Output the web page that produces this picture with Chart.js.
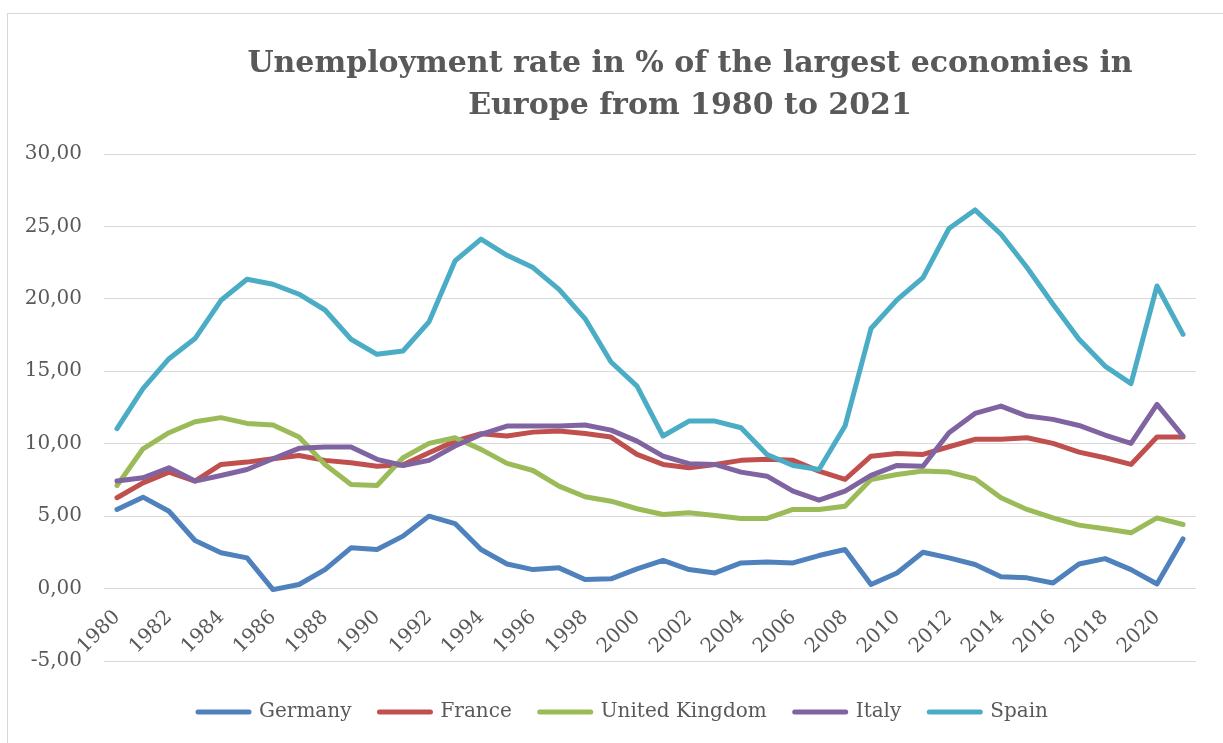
<!DOCTYPE html>
<html>
<head>
<meta charset="utf-8">
<title>Unemployment rate in Europe 1980–2021</title>
<script src="https://cdn.jsdelivr.net/npm/chart.js@4.4.1/dist/chart.umd.min.js"></script>
<style>
  html, body { margin: 0; padding: 0; background: #ffffff; overflow: hidden; }
  #frame { position: absolute; left: 7px; top: 13px; width: 1400px; height: 900px;
           border: 1px solid #d9d9d9; box-sizing: border-box; }
  #chart { position: absolute; left: 0; top: 0; }
</style>
</head>
<body>
<div id="frame"></div>
<canvas id="chart" width="1223" height="743"></canvas>
<script>
// Years on the category axis
const years = [
  '1980', '1981', '1982', '1983', '1984', '1985', '1986', '1987', '1988', '1989',
  '1990', '1991', '1992', '1993', '1994', '1995', '1996', '1997', '1998', '1999',
  '2000', '2001', '2002', '2003', '2004', '2005', '2006', '2007', '2008', '2009',
  '2010', '2011', '2012', '2013', '2014', '2015', '2016', '2017', '2018', '2019',
  '2020', '2021'
];

// Unemployment rate in % per country
const germany = [
  5.46, 6.31, 5.34, 3.32, 2.47, 2.12, -0.07, 0.28, 1.31, 2.81, 2.70,
  3.62, 5.00, 4.49, 2.70, 1.70, 1.31, 1.43, 0.62, 0.67, 1.36,
  1.94, 1.31, 1.08, 1.77, 1.84, 1.77, 2.28, 2.70, 0.28, 1.08,
  2.51, 2.12, 1.66, 0.81, 0.74, 0.39, 1.70, 2.07, 1.31, 0.32, 3.43
];
const france = [
  6.27, 7.30, 8.04, 7.42, 8.57, 8.73, 8.96, 9.19, 8.85, 8.69, 8.45,
  8.55, 9.38, 10.18, 10.69, 10.53, 10.80, 10.87, 10.71, 10.46, 9.26,
  8.57, 8.34, 8.57, 8.85, 8.92, 8.85, 8.11, 7.53, 9.14, 9.33,
  9.26, 9.79, 10.30, 10.30, 10.41, 10.02, 9.42, 9.03, 8.57, 10.46, 10.46
];
const unitedKingdom = [
  7.12, 9.65, 10.76, 11.52, 11.80, 11.40, 11.29, 10.46, 8.57, 7.19, 7.12,
  9.03, 10.02, 10.41, 9.61, 8.64, 8.15, 7.07, 6.34, 6.03, 5.51,
  5.11, 5.23, 5.04, 4.84, 4.84, 5.46, 5.46, 5.69, 7.53, 7.88,
  8.11, 8.04, 7.58, 6.27, 5.46, 4.88, 4.38, 4.13, 3.85, 4.88, 4.42
];
const italy = [
  7.42, 7.65, 8.34, 7.42, 7.81, 8.22, 8.96, 9.68, 9.77, 9.77, 8.92,
  8.50, 8.85, 9.84, 10.64, 11.22, 11.22, 11.22, 11.29, 10.94, 10.18,
  9.14, 8.62, 8.57, 8.04, 7.76, 6.73, 6.10, 6.73, 7.81, 8.50,
  8.45, 10.76, 12.09, 12.60, 11.91, 11.68, 11.26, 10.60, 10.02, 12.72, 10.53
];
const spain = [
  11.04, 13.80, 15.87, 17.26, 19.90, 21.35, 21.01, 20.32, 19.23, 17.21, 16.17,
  16.40, 18.41, 22.62, 24.12, 23.01, 22.16, 20.66, 18.64, 15.64, 13.98,
  10.53, 11.56, 11.56, 11.10, 9.26, 8.50, 8.22, 11.22, 17.95, 19.93,
  21.47, 24.86, 26.14, 24.46, 22.16, 19.63, 17.21, 15.36, 14.15, 20.89, 17.55
];

// Value axis ticks and their printed labels
const yTickValues = [-5, 0, 5, 10, 15, 20, 25, 30];
const yTickLabels = ['-5,00', '0,00', '5,00', '10,00', '15,00', '20,00', '25,00', '30,00'];

const chartTitle = ['Unemployment rate in % of the largest economies in', 'Europe from 1980 to 2021'];

const TEXT_COLOR = '#595959';
const GRID_COLOR = '#d9d9d9';
const FONT_FAMILY = "'DejaVu Serif', serif";
const TITLE_CENTER_X = 690;
const LEGEND_CENTER_X = 623;

function series(label, data, color, order) {
  return {
    label, data, order,
    borderColor: color,
    backgroundColor: color,
    borderWidth: 5,
    borderCapStyle: 'round',
    borderJoinStyle: 'round',
    pointRadius: 0,
    pointHoverRadius: 0,
    tension: 0,
    fill: false
  };
}

// Re-centres the heading and the legend horizontally after layout
function recentre(box, cx) {
  if (!box) return;
  const dx = cx - (box.left + box.right) / 2;
  box.left += dx;
  box.right += dx;
}
const blockCentring = {
  id: 'blockCentring',
  afterLayout(chart) {
    recentre(chart.titleBlock, TITLE_CENTER_X);
    recentre(chart.legend, LEGEND_CENTER_X);
  }
};

new Chart(document.getElementById('chart'), {
  type: 'line',
  data: {
    labels: years,
    datasets: [
      series('Germany', germany, '#4f81bd', 4),
      series('France', france, '#c0504d', 3),
      series('United Kingdom', unitedKingdom, '#9bbb59', 2),
      series('Italy', italy, '#8064a2', 1),
      series('Spain', spain, '#4bacc6', 0)
    ]
  },
  options: {
    responsive: false,
    animation: false,
    events: [],
    layout: { padding: { top: 0, left: 20, right: 27, bottom: 11 } },
    scales: {
      x: {
        type: 'category',
        offset: true,
        position: { y: 0 },
        grid: { display: false, drawTicks: false },
        border: { display: false },
        ticks: {
          autoSkip: false,
          minRotation: 45,
          maxRotation: 45,
          padding: 17,
          color: TEXT_COLOR,
          font: { family: FONT_FAMILY, size: 20 },
          callback(value, index) {
            return index % 2 === 0 ? this.getLabelForValue(value) : '';
          }
        }
      },
      y: {
        min: -5,
        max: 30,
        afterFit(scale) { scale.width = 84; },
        grid: { color: GRID_COLOR, lineWidth: 1, drawTicks: false },
        border: { display: false },
        ticks: {
          stepSize: 5,
          padding: 22,
          color: TEXT_COLOR,
          font: { family: FONT_FAMILY, size: 20 },
          callback(value) {
            const i = yTickValues.indexOf(value);
            return i >= 0 ? yTickLabels[i] : '';
          }
        }
      }
    },
    plugins: {
      title: {
        display: true,
        text: chartTitle,
        color: TEXT_COLOR,
        font: { family: FONT_FAMILY, size: 30, weight: 'bold', lineHeight: '42px' },
        padding: { top: 43, bottom: 27 }
      },
      legend: {
        position: 'bottom',
        align: 'center',
        title: { display: true, text: '', font: { size: 1, lineHeight: 1 }, padding: { top: 12, bottom: 0 } },
        labels: {
          boxWidth: 51,
          boxHeight: 0,
          padding: 28,
          color: TEXT_COLOR,
          font: { family: FONT_FAMILY, size: 20 },
          sort: (a, b) => a.datasetIndex - b.datasetIndex
        }
      },
      tooltip: { enabled: false }
    }
  },
  plugins: [blockCentring]
});
</script>
</body>
</html>
